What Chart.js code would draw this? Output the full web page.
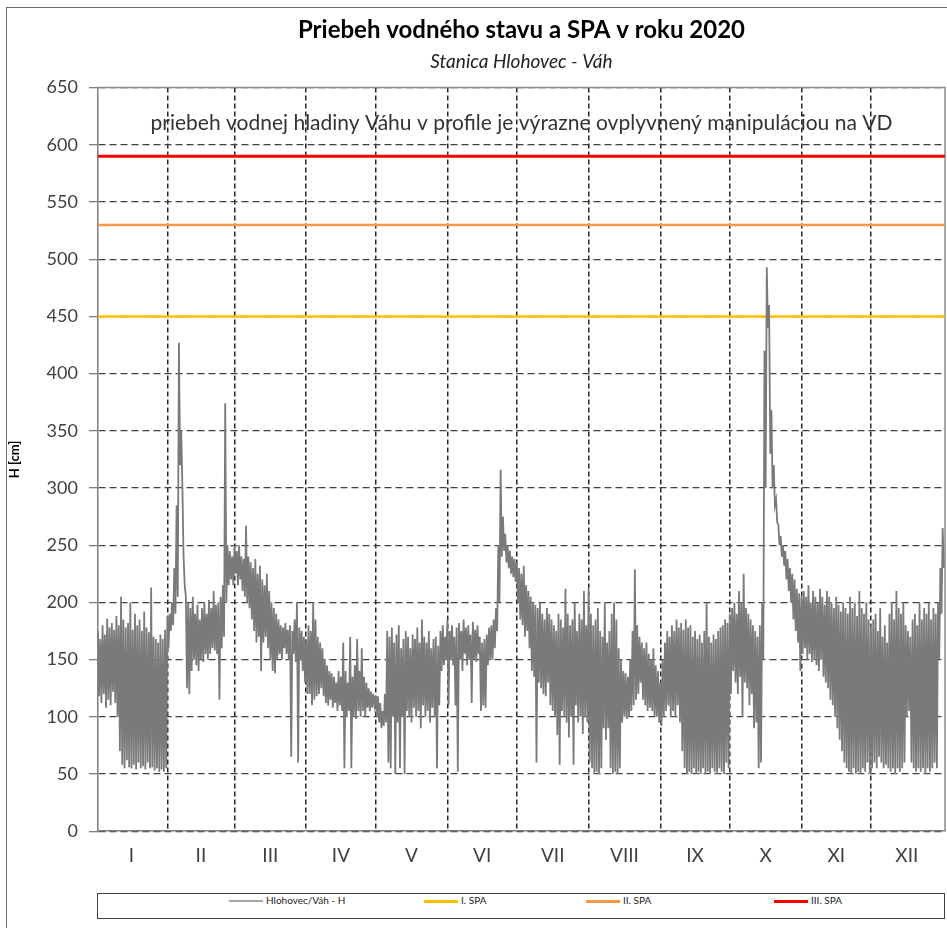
<!DOCTYPE html>
<html>
<head>
<meta charset="utf-8">
<script src="https://cdn.jsdelivr.net/npm/chart.js@4.4.1/dist/chart.umd.min.js"></script>
<style>
    body { margin: 0; background: #fff; }
    .frame { position: absolute; left: 6px; top: 7px; width: 960px; height: 940px; border: 1px solid #6b6b6b; }
    .wrap { position: absolute; left: 0; top: 0; width: 947px; height: 928px; }
    .legend { position: absolute; left: 97px; top: 893px; width: 846px; height: 24px; border: 1px solid #404040; background: #fff; }
    .legend .item { position: absolute; top: 0; height: 24px; line-height: 24px; font: 10px Lato, sans-serif; color: #222; white-space: nowrap; }
    .legend .swatch { display: inline-block; width: 34px; vertical-align: middle; margin-right: 3px; }
</style>
</head>
<body>
<div class="frame"></div>
<div class="wrap"><canvas class="level-chart" width="947" height="928"></canvas></div>
<div class="legend"></div>
<script>
// 2020 is a leap year
const monthDays = [31, 29, 31, 30, 31, 30, 31, 31, 30, 31, 30, 31]
const monthLabels = ["I", "II", "III", "IV", "V", "VI", "VII", "VIII", "IX", "X", "XI", "XII"]
const yTicks = { min: 0, max: 650, step: 50 }

// water level H [cm], two readings per day (high, low)
const hJan = [175,118, 168,112, 180,120, 172,108, 186,115,
    178,110, 182,122, 176,112, 188,100, 180,70,
    205,58, 185,55, 178,62, 182,56, 200,55,
    176,58, 190,54, 180,60, 185,55, 175,57,
    192,54, 178,60, 174,55, 213,56, 170,53,
    168,55, 165,52, 172,54, 168,52, 176,55,
    188,160]
const hFeb = [190,175, 200,180, 230,190, 285,205, 427,320,
    350,300, 240,215, 205,125, 200,120, 195,140,
    205,150, 190,145, 198,140, 185,150, 195,148,
    200,155, 190,150, 202,155, 195,160, 210,158,
    198,155, 200,115, 205,160, 215,170, 374,200,
    250,215, 245,220, 240,215, 250,225]
const hMar = [245,215, 250,220, 240,210, 238,205, 267,200,
    240,195, 235,185, 230,175, 238,165, 225,170,
    232,140, 220,165, 215,170, 225,160, 210,150,
    200,140, 195,138, 190,150, 185,155, 180,150,
    178,160, 182,155, 176,150, 180,65, 175,155,
    185,148, 200,60, 178,150, 175,140, 170,130,
    168,120]
const hApr = [180,120, 175,110, 200,115, 185,118, 170,120,
    165,125, 160,118, 150,112, 145,110, 140,115,
    138,108, 135,112, 130,105, 140,110, 135,105,
    165,55, 140,100, 130,105, 170,55, 135,100,
    145,98, 168,105, 140,100, 160,105, 135,100,
    130,108, 125,105, 122,108, 120,110, 118,100]
const hMay = [118,95, 112,90, 105,92, 120,95, 175,60,
    170,55, 178,100, 165,50, 172,95, 180,55,
    160,100, 168,50, 175,105, 170,100, 160,95,
    172,108, 168,100, 178,105, 165,90, 185,110,
    170,100, 165,105, 175,95, 160,108, 168,100,
    170,55, 162,110, 175,140, 180,145, 170,150,
    185,110]
const hJun = [175,150, 180,145, 170,110, 178,52, 182,150,
    175,140, 185,155, 178,145, 180,150, 172,112,
    183,150, 176,148, 180,155, 170,105, 165,110,
    168,108, 172,145, 178,150, 180,150, 185,160,
    195,175, 250,200, 316,240, 275,245, 260,235,
    250,230, 245,225, 240,222, 238,218, 235,200]
const hJul = [230,185, 225,180, 232,170, 215,175, 210,160,
    205,140, 200,135, 198,60, 195,130, 200,125,
    190,120, 185,118, 195,130, 190,110, 185,105,
    180,100, 175,84, 190,58, 185,105, 178,100,
    212,95, 190,82, 180,100, 185,58, 200,110,
    175,95, 190,100, 185,85, 210,100, 180,95,
    212,60]
const hAug = [190,55, 180,50, 185,52, 195,50, 175,55,
    170,90, 200,80, 165,90, 175,55, 190,50,
    200,52, 185,50, 160,55, 150,95, 140,100,
    138,98, 135,100, 150,105, 175,110, 229,115,
    180,120, 170,130, 165,115, 160,110, 165,105,
    155,108, 150,105, 160,100, 145,100, 140,95,
    130,92]
const hSep = [150,100, 165,105, 175,110, 170,100, 180,105,
    175,100, 185,110, 178,95, 182,70, 176,55,
    185,50, 178,52, 180,50, 170,55, 175,50,
    168,52, 172,50, 165,55, 175,50, 200,52,
    170,50, 165,55, 172,52, 168,50, 175,55,
    178,52, 180,50, 185,60, 182,55, 190,120]
const hOct = [195,140, 200,130, 190,120, 210,135, 200,100,
    225,130, 195,125, 190,110, 185,120, 180,90,
    175,95, 170,55, 180,60, 200,150, 420,300,
    493,440, 460,330, 368,300, 320,285, 290,270,
    268,250, 258,240, 250,232, 245,220, 238,210,
    230,200, 225,185, 220,175, 212,165, 208,140,
    205,155]
const hNov = [210,160, 205,150, 215,155, 200,148, 210,150,
    205,145, 200,140, 212,150, 205,135, 198,130,
    210,125, 205,115, 200,110, 195,100, 205,90,
    198,80, 192,70, 200,60, 195,55, 190,52,
    205,50, 195,55, 200,50, 188,52, 210,50,
    195,55, 190,52, 200,60, 185,50, 180,55]
const hDec = [185,60, 190,55, 175,65, 195,60, 170,55,
    180,58, 165,55, 190,52, 200,55, 185,50,
    210,55, 195,52, 190,55, 200,60, 180,100,
    175,105, 170,60, 185,55, 190,52, 180,55,
    200,52, 185,55, 195,50, 190,55, 200,52,
    185,55, 195,60, 190,55, 200,150, 230,190,
    265,230]

const spaLevels = [450, 530, 590]
const spaNames = ["I. SPA", "II. SPA", "III. SPA"]
const spaColors = ["#ffc000", "#f59a45", "#ff0000"]
const spaWidths = [2.5, 2.5, 3]

const seriesName = "Hlohovec/Váh - H"
const noteText = "priebeh vodnej hladiny Váhu v profile je výrazne ovplyvnený manipuláciou na VD"

const monthValues = [hJan, hFeb, hMar, hApr, hMay, hJun, hJul, hAug, hSep, hOct, hNov, hDec]

// x is day of year, 1 = 1st of January
const levelPoints = []
const monthEnds = []
const monthMids = []
let dayStart = 1
monthValues.forEach((values, m) => {
    values.forEach((v, i) => levelPoints.push({ x: dayStart + i / 2, y: v }))
    monthMids.push(dayStart - 1 + monthDays[m] / 2)
    dayStart += monthDays[m]
    if (m < 11) monthEnds.push(dayStart - 1)
})
const xMin = 1
const xMax = dayStart

const spaDatasets = spaLevels.map((level, i) => ({
    label: spaNames[i],
    data: [{ x: xMin, y: level }, { x: xMax, y: level }],
    borderColor: spaColors[i],
    borderWidth: spaWidths[i],
    pointRadius: 0
}))

const framePlugin = {
    id: "frame",
    beforeDatasetsDraw(chart) {
        const { ctx, chartArea } = chart
        ctx.save()
        ctx.strokeStyle = "#8c8c8c"
        ctx.lineWidth = 1.5
        ctx.beginPath()
        ctx.moveTo(chartArea.left, chartArea.top)
        ctx.lineTo(chartArea.right, chartArea.top)
        ctx.lineTo(chartArea.right, chartArea.bottom)
        ctx.stroke()
        ctx.restore()
    }
}

const notePlugin = {
    id: "note",
    afterDatasetsDraw(chart) {
        const { ctx, chartArea, scales } = chart
        ctx.save()
        ctx.font = "21px Lato, sans-serif"
        ctx.fillStyle = "#333"
        ctx.textAlign = "center"
        ctx.textBaseline = "middle"
        ctx.fillText(noteText, (chartArea.left + chartArea.right) / 2, scales.y.getPixelForValue(619))
        ctx.restore()
    }
}

const chartEl = document.querySelector(".level-chart")
const levelChart = new Chart(chartEl.getContext("2d"), {
    type: "line",
    data: {
        datasets: [{
            label: seriesName,
            data: levelPoints,
            borderColor: "#7a7a7a",
            borderWidth: 1.8,
            pointRadius: 0
        }, ...spaDatasets]
    },
    options: {
        responsive: false,
        animation: false,
        layout: { padding: { left: 3, right: 2, top: 8, bottom: 48 } },
        plugins: {
            legend: { display: false },
            tooltip: { enabled: false },
            title: {
                display: true,
                fullSize: false,
                text: "Priebeh vodného stavu a SPA v roku 2020",
                color: "#000",
                font: { family: "Lato", size: 24, weight: "bold" },
                padding: { top: 8, bottom: 2 }
            },
            subtitle: {
                display: true,
                fullSize: false,
                text: "Stanica Hlohovec - Váh",
                color: "#222",
                font: { family: "Lato", size: 19, style: "italic" },
                padding: { top: 4, bottom: 14 }
            }
        },
        scales: {
            x: {
                type: "linear",
                min: xMin,
                max: xMax,
                afterBuildTicks: scale => { scale.ticks = monthEnds.map(v => ({ value: v })) },
                ticks: { display: false },
                grid: { color: "#262626", lineWidth: 1.5, drawTicks: false },
                border: { display: true, color: "#7f7f7f", width: 1.5, dash: [5, 3] }
            },
            xm: {
                type: "linear",
                position: "bottom",
                min: xMin,
                max: xMax,
                afterBuildTicks: scale => { scale.ticks = monthMids.map(v => ({ value: v })) },
                ticks: {
                    autoSkip: false,
                    maxRotation: 0,
                    padding: 13,
                    color: "#404040",
                    font: { family: "Lato", size: 19 },
                    callback: (value, index) => monthLabels[index]
                },
                grid: { display: false, drawTicks: false },
                border: { display: false }
            },
            y: {
                min: yTicks.min,
                max: yTicks.max,
                ticks: { stepSize: yTicks.step, color: "#404040", padding: 11, font: { family: "Lato", size: 18 } },
                grid: { color: "#404040", lineWidth: 1.3, tickLength: 9, tickColor: "#7f7f7f" },
                border: { display: true, color: "#7f7f7f", width: 1.5, dash: [7, 4] },
                title: {
                    display: true,
                    text: "H [cm]",
                    color: "#000",
                    font: { family: "Lato", size: 13, weight: "bold" },
                    padding: { top: 4, bottom: 13 }
                }
            }
        }
    },
    plugins: [framePlugin, notePlugin]
})

// legend sits in a framed strip under the chart like the original
const legendEl = document.querySelector(".legend")
const legendLeft = [131, 326, 488, 676]
levelChart.data.datasets.forEach((ds, i) => {
    const item = document.createElement("div")
    item.className = "item"
    item.style.left = legendLeft[i] + "px"
    const swatch = document.createElement("span")
    swatch.className = "swatch"
    swatch.style.background = i == 0 ? "#a6a6a6" : ds.borderColor
    swatch.style.height = (i == 0 ? 2 : 3) + "px"
    item.appendChild(swatch)
    item.appendChild(document.createTextNode(ds.label))
    legendEl.appendChild(item)
})
</script>
</body>
</html>
